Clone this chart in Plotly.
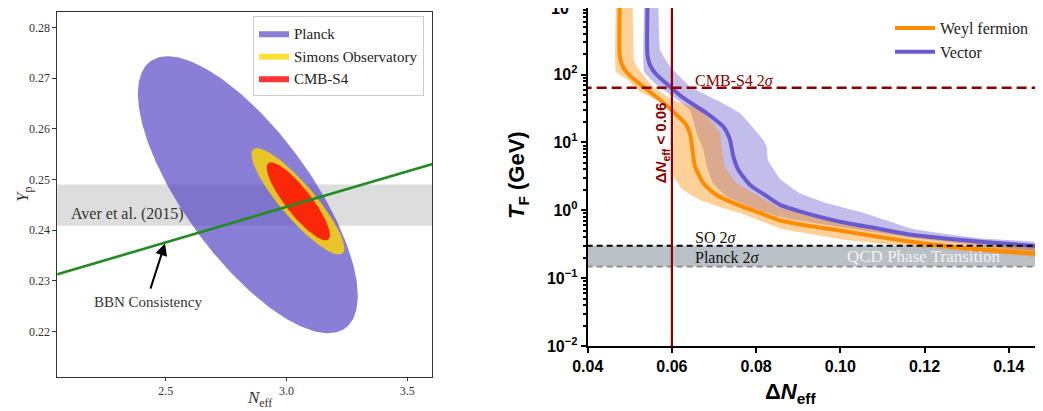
import numpy as np
import plotly.graph_objects as go

# ---------------- Left panel data ----------------
ell_names = ["Planck", "Simons Observatory", "CMB-S4"]
ell_center_neff = [2.840, 3.047, 3.049]
ell_center_yp = [0.2470, 0.2457, 0.2457]
ell_half_neff = [0.455, 0.192, 0.131]
ell_half_yp = [0.0273, 0.0105, 0.0077]
ell_corr = [-0.73, -0.88, -0.86]

aver_yp = [0.2409, 0.2490]
bbn_neff = [2.0, 3.7]
bbn_yp = [0.2306, 0.2544]

left_xticks = [2.5, 3.0, 3.5]
left_yticks = [0.22, 0.23, 0.24, 0.25, 0.26, 0.27, 0.28]

# ---------------- Right panel data ----------------
weyl_line_x = [0.0476, 0.0476, 0.0482, 0.0496, 0.0524, 0.0572, 0.0607, 0.0631, 0.0643, 0.0649,
               0.0655, 0.0675, 0.0706, 0.0757, 0.0809, 0.0857, 0.0920, 0.0999, 0.1094, 0.1173,
               0.1332, 0.1482]
weyl_line_T = [1000, 194, 138, 102, 72.6, 42.2, 26.9, 19.3, 13.6, 7.73,
               4.39, 2.50, 1.68, 1.20, 0.912, 0.707, 0.597, 0.504, 0.404, 0.341,
               0.264, 0.227]
weyl_lo_x = [0.0467, 0.0467, 0.0496, 0.0524, 0.0564, 0.0596, 0.0604, 0.0604, 0.0627, 0.0667,
             0.0722, 0.0769, 0.0857, 0.1015, 0.1173, 0.1332, 0.1482]
weyl_lo_T = [1000, 110, 83.2, 55.9, 42.2, 32.1, 27.1, 3.13, 1.99, 1.42,
             1.08, 0.881, 0.538, 0.365, 0.291, 0.243, 0.208]
weyl_hi_x = [0.0507, 0.0510, 0.0517, 0.0555, 0.0603, 0.0667, 0.0695, 0.0714, 0.0719, 0.0726,
             0.0754, 0.0809, 0.0857, 0.0920, 0.0999, 0.1173, 0.1332, 0.1482]
weyl_hi_T = [1000, 164, 129, 66.2, 42.2, 30.1, 20.0, 13.8, 7.73, 4.39,
             2.50, 1.59, 1.08, 0.867, 0.695, 0.462, 0.341, 0.278]

vec_line_x = [0.0542, 0.0542, 0.0548, 0.0562, 0.0591, 0.0627, 0.0683, 0.0722, 0.0738, 0.0746,
              0.0758, 0.0786, 0.0821, 0.0857, 0.0920, 0.0999, 0.1094, 0.1173, 0.1332, 0.1482]
vec_line_T = [1000, 194, 138, 102, 70.2, 45.2, 26.9, 17.1, 10.9, 6.17,
              3.93, 2.35, 1.68, 1.20, 0.90, 0.679, 0.530, 0.432, 0.345, 0.292]
vec_lo_x = [0.0534, 0.0534, 0.0564, 0.0603, 0.0643, 0.0659, 0.0675, 0.0683, 0.0698, 0.0730,
            0.0786, 0.0857, 0.0999, 0.1173, 0.1332, 0.1482]
vec_lo_T = [1000, 110, 70.2, 47.2, 30.1, 13.6, 7.73, 4.39, 2.50, 1.59,
            1.12, 0.796, 0.567, 0.390, 0.303, 0.259]
vec_hi_x = [0.0568, 0.0572, 0.0596, 0.0643, 0.0706, 0.0762, 0.0817, 0.0825, 0.0828, 0.0838,
            0.0857, 0.0904, 0.0968, 0.1047, 0.1173, 0.1332, 0.1482]
vec_hi_T = [1000, 230, 131, 66.2, 42.2, 26.9, 10.9, 8.65, 5.51, 4.34,
            2.90, 1.78, 1.27, 0.95, 0.53, 0.386, 0.326]

cmbs4_T = 64.0
so_T = 0.30
planck_T = 0.148
dneff_limit = 0.06

right_xticks = [0.04, 0.06, 0.08, 0.10, 0.12, 0.14]
right_yexp = [-2, -1, 0, 1, 2, 3]

# ---------------- styles ----------------
SERIF = "Liberation Serif"
SANS = "Liberation Sans"
ell_fill = ["rgba(83,67,195,0.68)", "rgba(255,215,0,0.8)", "rgba(255,0,0,0.8)"]
ORANGE = "#ff8c00"
PURPLE = "#6a5acd"
DARKRED = "#8b0000"

fig = go.Figure()

# ---- left panel ----
t = np.linspace(0, 2 * np.pi, 300)
for name, cx, cy, hx, hy, r, col in zip(ell_names, ell_center_neff, ell_center_yp,
                                         ell_half_neff, ell_half_yp, ell_corr, ell_fill):
    ex = cx + hx * np.cos(t)
    ey = cy + hy * (r * np.cos(t) + np.sqrt(1 - r * r) * np.sin(t))
    fig.add_trace(go.Scatter(x=ex, y=ey, mode="lines", fill="toself", fillcolor=col,
                             line=dict(width=0, color=col), name=name,
                             legend="legend", xaxis="x", yaxis="y", hoverinfo="skip"))

fig.add_trace(go.Scatter(x=bbn_neff, y=bbn_yp, mode="lines",
                         line=dict(color="#228b22", width=2.6), showlegend=False,
                         xaxis="x", yaxis="y", hoverinfo="skip"))

# ---- right panel ----
xr = [0.035, 0.17]
fig.add_trace(go.Scatter(x=[xr[0], xr[1], xr[1], xr[0]],
                         y=[planck_T, planck_T, so_T, so_T], fill="toself",
                         fillcolor="#b9c0c6", line=dict(width=0), mode="lines",
                         showlegend=False, xaxis="x2", yaxis="y2", hoverinfo="skip"))

fig.add_trace(go.Scatter(x=vec_lo_x + vec_hi_x[::-1], y=vec_lo_T + vec_hi_T[::-1],
                         fill="toself", fillcolor="rgba(106,90,205,0.4)", mode="lines",
                         line=dict(width=0, shape="spline", smoothing=0.3),
                         showlegend=False, xaxis="x2", yaxis="y2", hoverinfo="skip"))
fig.add_trace(go.Scatter(x=weyl_lo_x + weyl_hi_x[::-1], y=weyl_lo_T + weyl_hi_T[::-1],
                         fill="toself", fillcolor="rgba(255,140,0,0.4)", mode="lines",
                         line=dict(width=0, shape="spline", smoothing=0.3),
                         showlegend=False, xaxis="x2", yaxis="y2", hoverinfo="skip"))

fig.add_trace(go.Scatter(x=weyl_line_x, y=weyl_line_T, mode="lines", name="Weyl fermion",
                         line=dict(color=ORANGE, width=4, shape="spline", smoothing=0.6),
                         legend="legend2", xaxis="x2", yaxis="y2", hoverinfo="skip"))
fig.add_trace(go.Scatter(x=vec_line_x, y=vec_line_T, mode="lines", name="Vector",
                         line=dict(color=PURPLE, width=4, shape="spline", smoothing=0.6),
                         legend="legend2", xaxis="x2", yaxis="y2", hoverinfo="skip"))

fig.add_trace(go.Scatter(x=xr, y=[planck_T, planck_T], mode="lines",
                         line=dict(color="#888888", width=1.8, dash="6px,4px"),
                         showlegend=False, xaxis="x2", yaxis="y2", hoverinfo="skip"))
fig.add_trace(go.Scatter(x=xr, y=[so_T, so_T], mode="lines",
                         line=dict(color="black", width=1.8, dash="6px,4px"),
                         showlegend=False, xaxis="x2", yaxis="y2", hoverinfo="skip"))
fig.add_trace(go.Scatter(x=xr, y=[cmbs4_T, cmbs4_T], mode="lines",
                         line=dict(color=DARKRED, width=2.4, dash="10px,5px"),
                         showlegend=False, xaxis="x2", yaxis="y2", hoverinfo="skip"))
fig.add_trace(go.Scatter(x=[dneff_limit, dneff_limit], y=[0.005, 2000], mode="lines",
                         line=dict(color=DARKRED, width=2.2),
                         showlegend=False, xaxis="x2", yaxis="y2", hoverinfo="skip"))

# The page body has an 8px margin; the figure is made larger than the window so that the
# right panel runs past the window edge (as in the reference). Window pixel -> paper:
OFF = 8
W, H = 1100, 460
def px(xp):
    return (xp - OFF) / W
def py(yp):
    return 1 - (yp - OFF) / H

XPIX_PER_UNIT = 4210.0      # right panel: pixels per unit of Delta N_eff
right_x_max = 0.04 + (W + OFF - 587.7) / XPIX_PER_UNIT
right_top_log = 3 - (OFF - 6.7) / 67.86

fig.update_layout(
    width=W, height=H, margin=dict(l=0, r=0, t=0, b=0, autoexpand=False),
    paper_bgcolor="white", plot_bgcolor="white",
    xaxis=dict(domain=[px(57.3), px(432.3)], range=[2.0513, 3.6035],
               tickmode="array", tickvals=left_xticks, ticktext=["2.5", "3.0", "3.5"],
               ticks="outside", ticklen=3, tickcolor="#333", showgrid=False, zeroline=False,
               showline=True, linecolor="#333", linewidth=1, mirror=True,
               tickfont=dict(family=SERIF, size=12, color="#333"), anchor="y"),
    yaxis=dict(domain=[py(376.7), py(11.7)], range=[0.21113, 0.28308],
               tickmode="array", tickvals=left_yticks,
               ticktext=["%.2f" % v for v in left_yticks],
               ticks="outside", ticklen=4, tickcolor="#333", showgrid=False, zeroline=False,
               showline=True, linecolor="#333", linewidth=1, mirror=True,
               tickfont=dict(family=SERIF, size=12, color="#333"), anchor="x"),
    xaxis2=dict(domain=[px(587.7), 1.0], range=[0.04, right_x_max],
                tickmode="array", tickvals=right_xticks,
                ticktext=["%.2f" % v for v in right_xticks],
                ticks="outside", ticklen=5, tickwidth=1.5, tickcolor="black",
                showgrid=False, zeroline=False,
                showline=True, linecolor="black", linewidth=2, mirror=True,
                tickfont=dict(family=SANS, size=16, color="black", weight="bold"),
                anchor="y2"),
    yaxis2=dict(domain=[py(346), 1.0], type="log", range=[-2, right_top_log],
                tickmode="array", tickvals=[10.0 ** e for e in right_yexp],
                ticktext=["10<sup>%s</sup>" % (str(e).replace("-", "−")) for e in right_yexp],
                ticks="outside", ticklen=5, tickwidth=1.5, tickcolor="black",
                minor=dict(tickmode="array",
                           tickvals=[k * 10.0 ** e for e in range(-2, 3) for k in range(2, 10)],
                           ticks="outside", ticklen=3, tickcolor="black", showgrid=False),
                showgrid=False, zeroline=False,
                showline=True, linecolor="black", linewidth=2, mirror=False,
                tickfont=dict(family=SANS, size=16, color="black", weight="bold"),
                anchor="x2"),
    legend=dict(x=px(424), xanchor="right", y=py(16), yanchor="top",
                bgcolor="white", bordercolor="#cccccc", borderwidth=1,
                font=dict(family=SERIF, size=15, color="#222"),
                tracegroupgap=0, itemwidth=30),
    legend2=dict(x=px(890), xanchor="left", y=py(11), yanchor="top",
                 bgcolor="rgba(255,255,255,0)", borderwidth=0,
                 font=dict(family=SERIF, size=16, color="#222"), itemwidth=40),
    showlegend=True,
)

ann = []
# left panel texts
ann.append(dict(x=2.10, y=0.2432, xref="x", yref="y", text="Aver et al. (2015)",
                showarrow=False, xanchor="left", yanchor="middle",
                font=dict(family=SERIF, size=16, color="#333")))
ann.append(dict(x=2.497, y=0.2374, ax=2.435, ay=0.2282, xref="x", yref="y",
                axref="x", ayref="y", text="", showarrow=True, arrowhead=2,
                arrowsize=1.2, arrowwidth=2, arrowcolor="black"))
ann.append(dict(x=2.428, y=0.2259, xref="x", yref="y", text="BBN Consistency",
                showarrow=False, xanchor="center", yanchor="middle",
                font=dict(family=SERIF, size=15, color="#333")))
ann.append(dict(x=px(11), y=py(195), xref="paper", yref="paper",
                text="<i>Y</i><sub>p</sub>", textangle=-90, showarrow=False,
                font=dict(family=SERIF, size=17, color="#333")))
ann.append(dict(x=px(245), y=py(400), xref="paper", yref="paper", yshift=-12,
                text="<i>N</i><sub>eff</sub>", showarrow=False,
                font=dict(family=SERIF, size=17, color="#333")))

# top tick label of the right panel (its tick sits just above the page)
ann.append(dict(x=px(577), y=py(6.7), xref="paper", yref="paper",
                text="10<sup>3</sup>", showarrow=False, xanchor="right", yanchor="middle",
                font=dict(family=SANS, size=16, color="black", weight="bold")))

# right panel texts (log axis: annotation y is log10)
ann.append(dict(x=0.0651, y=np.log10(cmbs4_T), xref="x2", yref="y2",
                text="CMB-S4 2<i>σ</i>", showarrow=False, xanchor="left", yanchor="bottom",
                yshift=-3, font=dict(family=SERIF, size=16, color=DARKRED)))
ann.append(dict(x=0.0651, y=np.log10(so_T), xref="x2", yref="y2",
                text="SO 2<i>σ</i>", showarrow=False, xanchor="left", yanchor="bottom",
                yshift=-2, font=dict(family=SERIF, size=16, color="#111")))
ann.append(dict(x=0.0651, y=np.log10(planck_T), xref="x2", yref="y2",
                text="Planck 2<i>σ</i>", showarrow=False, xanchor="left", yanchor="bottom",
                yshift=-1, font=dict(family=SERIF, size=16, color="#111")))
ann.append(dict(x=0.1199, y=(np.log10(so_T) + np.log10(planck_T)) / 2, xref="x2", yref="y2",
                text="QCD Phase Transition", showarrow=False, xanchor="center",
                yanchor="middle", font=dict(family=SERIF, size=17, color="#f2f2f2")))
ann.append(dict(x=0.0576, y=1.0, xref="x2", yref="y2",
                text="<b>Δ<i>N</i><sub>eff</sub> &lt; 0.06</b>", textangle=-90,
                showarrow=False, xanchor="center", yanchor="middle",
                font=dict(family=SANS, size=15, color=DARKRED)))
ann.append(dict(x=px(518), y=py(175), xref="paper", yref="paper",
                text="<b><i>T</i><sub>F</sub> (GeV)</b>", textangle=-90, showarrow=False,
                font=dict(family=SANS, size=22, color="black")))
ann.append(dict(x=px(818), y=py(395), xref="paper", yref="paper", yshift=-14,
                text="<b>Δ<i>N</i><sub>eff</sub></b>", showarrow=False,
                font=dict(family=SANS, size=22, color="black")))

fig.update_layout(annotations=ann)

fig.add_shape(type="rect", xref="x domain", yref="y", x0=0, x1=1,
              y0=aver_yp[0], y1=aver_yp[1], fillcolor="#dddddd", line=dict(width=0),
              layer="below")

fig.write_html("out.html")
